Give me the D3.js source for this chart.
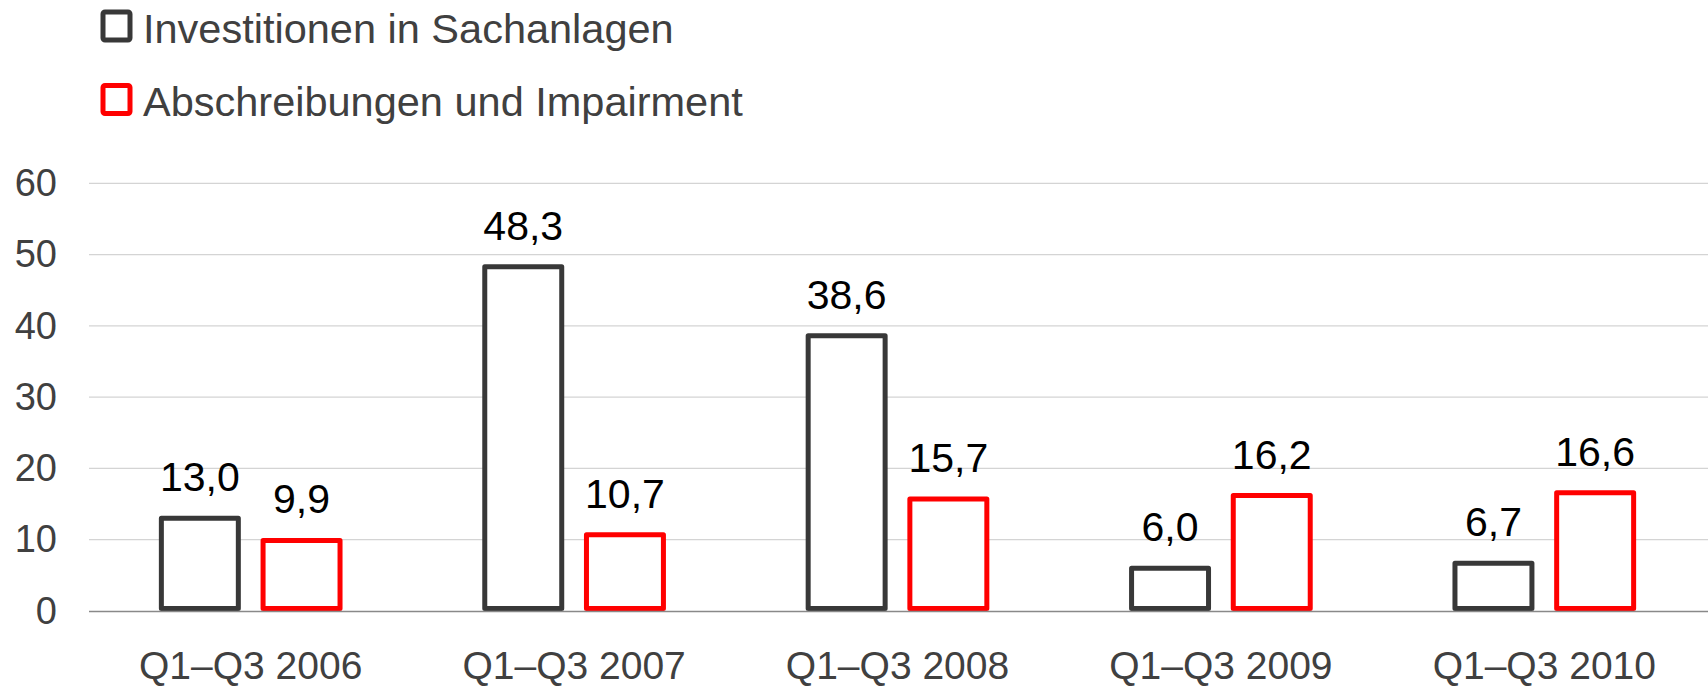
<!DOCTYPE html>
<html>
<head>
<meta charset="utf-8">
<script src="https://cdn.jsdelivr.net/npm/d3@7"></script>
<style>
  body { margin: 0; background: #fff; }
  svg { display: block; font-family: "Liberation Sans", Arial, sans-serif; }
</style>
</head>
<body>
<svg id="chart" width="1708" height="686"></svg>
<script>
const categories = ["Q1–Q3 2006", "Q1–Q3 2007", "Q1–Q3 2008", "Q1–Q3 2009", "Q1–Q3 2010"];
const seriesNames = ["Investitionen in Sachanlagen", "Abschreibungen und Impairment"];
const investitionen = [13.0, 48.3, 38.6, 6.0, 6.7];
const abschreibungen = [9.9, 10.7, 15.7, 16.2, 16.6];
const yTicks = [0, 10, 20, 30, 40, 50, 60];
const colors = ["#383838", "#ff0000"];

(function() {
  const seriesValues = [investitionen, abschreibungen];
  const fmt = d3.formatLocale({ decimal: ",", thousands: ".", grouping: [3], currency: ["", " €"] }).format(".1f");

  const svg = d3.select("#chart");
  const plot = { left: 89, right: 1706, top: 183.3, bottom: 611 };

  const x0 = d3.scaleBand().domain(categories).range([plot.left, plot.right]).padding(0);
  const x1 = d3.scaleBand().domain(d3.range(seriesNames.length))
    .range([0, x0.bandwidth()])
    .paddingInner(0.194)
    .paddingOuter(0.687);
  const y = d3.scaleLinear().domain([0, 60]).range([plot.bottom, plot.top]);

  // gridlines
  svg.append("g")
    .selectAll("line")
    .data(yTicks.filter(d => d > 0))
    .join("line")
    .attr("x1", plot.left).attr("x2", 1708)
    .attr("y1", d => y(d)).attr("y2", d => y(d))
    .attr("stroke", "#d4d4d4")
    .attr("stroke-width", 1.2);

  // y axis labels
  const yAxis = svg.append("g")
    .attr("transform", `translate(${plot.left},0)`)
    .call(d3.axisLeft(y).tickValues(yTicks).tickSize(0).tickPadding(32).tickFormat(d3.format("d")));
  yAxis.select(".domain").remove();
  yAxis.selectAll("text")
    .attr("fill", "#404040")
    .style("font-size", "38px")
    .style("font-family", "'Liberation Sans', Arial, sans-serif");

  // bars
  const groups = svg.append("g")
    .selectAll("g")
    .data(categories)
    .join("g")
    .attr("transform", d => `translate(${x0(d)},0)`);

  groups.selectAll("rect")
    .data((c, i) => seriesValues.map((vals, s) => ({ s, v: vals[i] })))
    .join("rect")
    .attr("x", d => x1(d.s) + 2.5)
    .attr("width", x1.bandwidth() - 5)
    .attr("y", d => y(d.v))
    .attr("height", d => y(0) - 2.5 - y(d.v))
    .attr("fill", "#fff")
    .attr("stroke", d => colors[d.s])
    .attr("stroke-width", 5)
    .attr("stroke-linejoin", "round");

  groups.selectAll("text")
    .data((c, i) => seriesValues.map((vals, s) => ({ s, v: vals[i] })))
    .join("text")
    .attr("x", d => x1(d.s) + x1.bandwidth() / 2)
    .attr("y", d => y(d.v) - 27)
    .attr("text-anchor", "middle")
    .attr("fill", "#000")
    .style("font-size", "41px")
    .text(d => fmt(d.v));

  // x axis
  const xAxis = svg.append("g")
    .attr("transform", `translate(0,${plot.bottom})`)
    .call(d3.axisBottom(x0).tickSize(0).tickPadding(40));
  xAxis.select(".domain")
    .attr("d", `M${plot.left},0.5H1708`)
    .attr("stroke", "#898989")
    .attr("stroke-width", 1.5);
  xAxis.selectAll("text")
    .attr("fill", "#404040")
    .style("font-size", "39px")
    .style("font-family", "'Liberation Sans', Arial, sans-serif");

  // legend
  const legend = svg.append("g")
    .selectAll("g")
    .data(seriesNames)
    .join("g")
    .attr("transform", (d, i) => `translate(103,${12 + i * 73.5})`);
  legend.append("rect")
    .attr("width", 27).attr("height", 28)
    .attr("rx", 2)
    .attr("fill", "#fff")
    .attr("stroke", (d, i) => colors[i])
    .attr("stroke-width", 5);
  legend.append("text")
    .attr("x", 40)
    .attr("y", 30.5)
    .attr("fill", "#404040")
    .style("font-size", "41.5px")
    .text(d => d);
})();
</script>
</body>
</html>
